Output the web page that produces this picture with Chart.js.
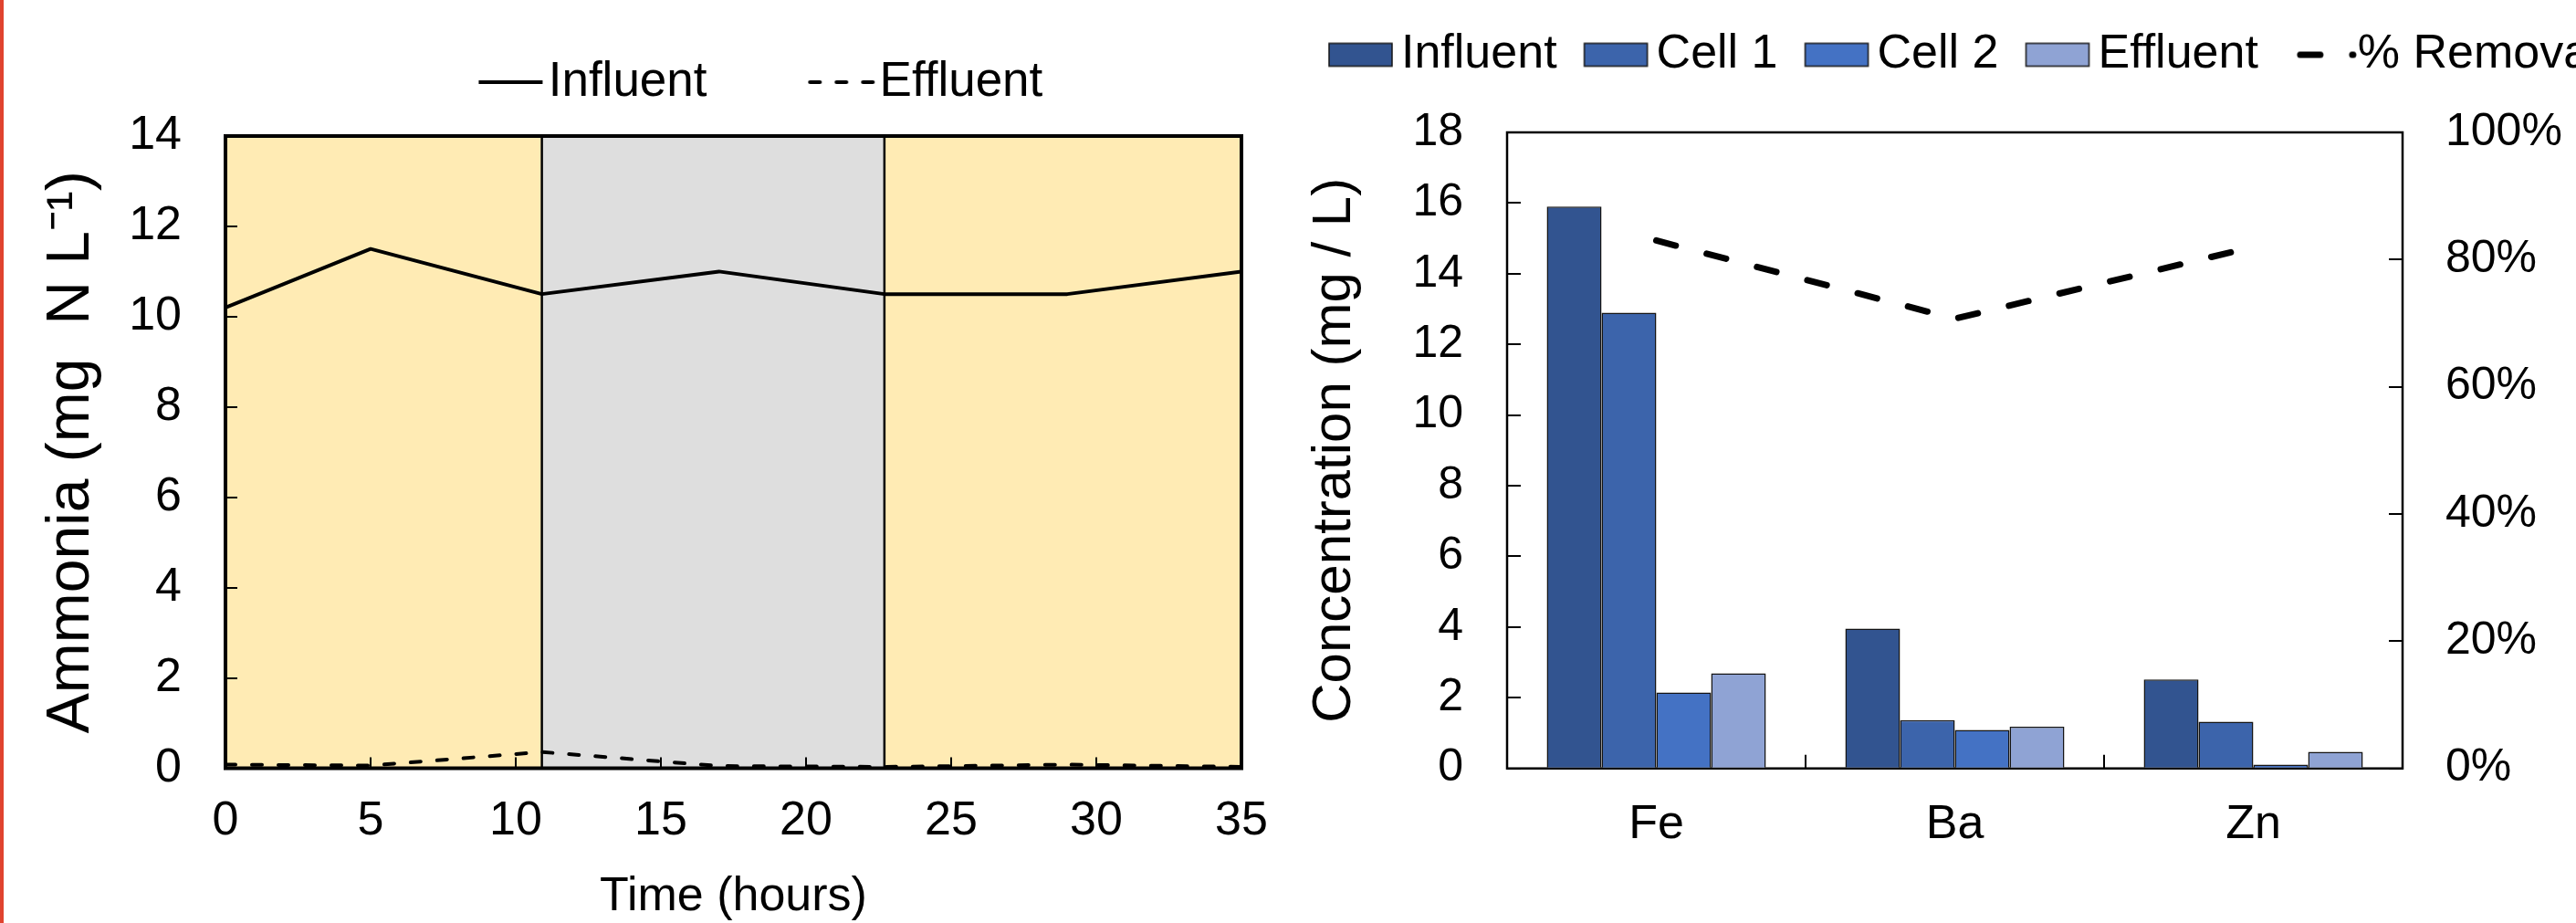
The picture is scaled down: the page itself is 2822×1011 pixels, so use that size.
<!DOCTYPE html>
<html>
<head>
<meta charset="utf-8">
<script src="https://cdn.jsdelivr.net/npm/chart.js@4/dist/chart.umd.min.js"></script>
<style>
  html, body { margin: 0; padding: 0; background: #fff; overflow: hidden; }
  body { width: 2822px; height: 1011px; position: relative; }
  #ammoniaChart { position: absolute; left: 0; top: 0; }
  #metalsChart { position: absolute; left: 1426px; top: 0; }
  .edge { position: absolute; left: 0; top: 0; width: 4px; height: 1011px; background: #e0432f; }
</style>
</head>
<body>
<canvas id="ammoniaChart" width="1435" height="1011"></canvas>
<canvas id="metalsChart" width="1500" height="1011"></canvas>
<div class="edge"></div>
<script>
Chart.defaults.font.family = '"Liberation Sans", Arial, sans-serif';
Chart.defaults.color = '#000';

// left panel: ammonia over one run
const hours = [0, 5, 10.9, 17, 22.7, 29, 35];
const ammoniaInfluent = [10.2, 11.5, 10.5, 11.0, 10.5, 10.5, 11.0];
const ammoniaEffluent = [0.08, 0.06, 0.36, 0.05, 0.03, 0.08, 0.03];
const phaseEdges = [0, 10.9, 22.7, 35];

// right panel: metals
const metals = ['Fe', 'Ba', 'Zn'];
const metalInfluent = [15.9, 3.96, 2.52];
const metalCell1 = [12.9, 1.37, 1.32];
const metalCell2 = [2.15, 1.09, 0.11];
const metalEffluent = [2.69, 1.18, 0.47];
const removalPct = [83.0, 70.7, 82.0];

// push the plot down from the legend
const legendGap = {
  id: 'legendGap',
  beforeInit(chart, args, opts) {
    const fit = chart.legend.fit;
    chart.legend.fit = function () {
      fit.call(this);
      this.height += opts.gap || 0;
    };
  }
};

const phaseShading = {
  id: 'phaseShading',
  beforeDraw(chart, args, opts) {
    const { ctx, chartArea: { top, bottom }, scales: { x } } = chart;
    ctx.save();
    for (let i = 0; i < opts.edges.length - 1; i++) {
      const x0 = x.getPixelForValue(opts.edges[i]);
      const x1 = x.getPixelForValue(opts.edges[i + 1]);
      ctx.fillStyle = opts.colors[i % opts.colors.length];
      ctx.fillRect(x0, top, x1 - x0, bottom - top);
    }
    ctx.strokeStyle = opts.lineColor;
    ctx.lineWidth = opts.lineWidth;
    for (let i = 1; i < opts.edges.length - 1; i++) {
      const px = x.getPixelForValue(opts.edges[i]);
      ctx.beginPath();
      ctx.moveTo(px, top);
      ctx.lineTo(px, bottom);
      ctx.stroke();
    }
    ctx.restore();
  }
};

const plotFrame = {
  id: 'plotFrame',
  beforeDatasetsDraw(chart, args, opts) {
    const { ctx, chartArea: a } = chart;
    ctx.save();
    ctx.strokeStyle = opts.color;
    ctx.lineWidth = opts.width;
    ctx.strokeRect(a.left, a.top, a.width, a.height);
    ctx.restore();
  }
};

// legend swatch as a small canvas; shift moves it right, next to its label
function swatch(ds, isLine, sw) {
  const len = isLine ? sw.lineLen : sw.rectW;
  const shift = isLine ? (sw.lineShift ?? sw.shift) : sw.shift;
  const h = isLine ? ds.borderWidth + 6 : sw.rectH + 4;
  const c = document.createElement('canvas');
  c.width = Math.ceil(2 * (Math.abs(shift) + len / 2) + 10);
  c.height = Math.ceil(h);
  const g = c.getContext('2d');
  const x0 = c.width / 2 + shift - len / 2;
  if (isLine) {
    g.strokeStyle = ds.borderColor;
    g.lineWidth = ds.borderWidth;
    g.lineCap = ds.borderCapStyle || 'butt';
    g.setLineDash(ds.borderDash || []);
    g.beginPath();
    g.moveTo(x0, c.height / 2);
    g.lineTo(x0 + len, c.height / 2);
    g.stroke();
  } else {
    const y0 = (c.height - sw.rectH) / 2;
    g.fillStyle = ds.backgroundColor;
    g.fillRect(x0, y0, len, sw.rectH);
    g.strokeStyle = ds.borderColor;
    g.lineWidth = ds.borderWidth;
    g.strokeRect(x0, y0, len, sw.rectH);
  }
  return c;
}

function makeLegendItems(sw) {
  return (chart) => chart.data.datasets.map((ds, i) => ({
    text: ds.label,
    fillStyle: ds.backgroundColor || 'transparent',
    strokeStyle: ds.borderColor,
    lineWidth: 0,
    pointStyle: swatch(ds, (ds.type || chart.config.type) === 'line', sw),
    fontColor: '#000',
    hidden: false,
    datasetIndex: i
  }));
}

function insideTicks(len) {
  return { drawOnChartArea: false, drawTicks: true, tickLength: -len, color: '#000', lineWidth: 2 };
}

const toPoints = (ys) => hours.map((h, i) => ({ x: h, y: ys[i] }));

new Chart(document.getElementById('ammoniaChart'), {
  type: 'line',
  data: {
    datasets: [
      {
        label: 'Influent',
        data: toPoints(ammoniaInfluent),
        borderColor: '#000',
        backgroundColor: 'transparent',
        borderWidth: 4,
        borderJoinStyle: 'round',
        pointRadius: 0,
        tension: 0
      },
      {
        label: 'Effluent',
        data: toPoints(ammoniaEffluent),
        borderColor: '#000',
        backgroundColor: 'transparent',
        borderWidth: 4,
        borderDash: [11, 18],
        borderCapStyle: 'round',
        pointRadius: 0,
        tension: 0
      }
    ]
  },
  options: {
    responsive: false,
    animation: false,
    devicePixelRatio: 1,
    layout: { padding: { top: 10.5, right: 75, bottom: 0, left: 0 } },
    plugins: {
      legend: {
        position: 'top',
        fullSize: false,
        align: 'center',
        labels: {
          usePointStyle: true,
          pointStyleWidth: 109.5,
          padding: 53,
          font: { size: 53 },
          color: '#000',
          generateLabels: makeLegendItems({ lineLen: 70, shift: 40 })
        }
      },
      tooltip: { enabled: false },
      legendGap: { gap: 22.5 },
      phaseShading: {
        edges: phaseEdges,
        colors: ['#ffebb4', '#dedede'],
        lineColor: '#000',
        lineWidth: 2.5
      },
      plotFrame: { width: 4, color: '#000' }
    },
    scales: {
      x: {
        type: 'linear',
        min: 0,
        max: 35,
        afterFit(s) { s.height = 169.5; },
        ticks: { stepSize: 5, padding: 44, font: { size: 52, lineHeight: 1 } },
        grid: insideTicks(12),
        border: { display: false },
        title: {
          display: true,
          text: 'Time (hours)',
          font: { size: 52, lineHeight: 1 },
          padding: { top: 0, bottom: 2 }
        }
      },
      y: {
        min: 0,
        max: 14,
        afterFit(s) { s.width = 247; },
        ticks: { stepSize: 2, padding: 61, font: { size: 52, lineHeight: 1 } },
        grid: insideTicks(13),
        border: { display: false },
        title: {
          display: true,
          text: 'Ammonia (mg  N L⁻¹)',
          font: { size: 66 },
          padding: { top: 39, bottom: 0 }
        }
      }
    }
  },
  plugins: [legendGap, phaseShading, plotFrame]
});

const barStyle = { borderColor: '#141414', borderWidth: 1.5, order: 1 };

new Chart(document.getElementById('metalsChart'), {
  type: 'bar',
  data: {
    labels: metals,
    datasets: [
      { label: 'Influent', data: metalInfluent, backgroundColor: '#325490', ...barStyle },
      { label: 'Cell 1', data: metalCell1, backgroundColor: '#3c64ab', ...barStyle },
      { label: 'Cell 2', data: metalCell2, backgroundColor: '#4472c4', ...barStyle },
      { label: 'Effluent', data: metalEffluent, backgroundColor: '#8fa3d4', ...barStyle },
      {
        type: 'line',
        label: '% Removal',
        data: removalPct,
        yAxisID: 'y1',
        borderColor: '#000',
        backgroundColor: 'transparent',
        borderWidth: 7,
        borderDash: [22, 35],
        borderCapStyle: 'round',
        pointRadius: 0,
        tension: 0,
        order: 0
      }
    ]
  },
  options: {
    responsive: false,
    animation: false,
    devicePixelRatio: 1,
    layout: { padding: { top: 20, right: 0, bottom: 0, left: 0 } },
    datasets: { bar: { categoryPercentage: 0.734, barPercentage: 1 } },
    plugins: {
      legend: {
        position: 'top',
        align: 'start',
        labels: {
          usePointStyle: true,
          pointStyleWidth: 69,
          boxHeight: 25,
          padding: 14,
          font: { size: 52 },
          color: '#000',
          generateLabels: makeLegendItems({ rectW: 69, rectH: 25, lineLen: 58, shift: 16, lineShift: 26.5 })
        }
      },
      tooltip: { enabled: false },
      legendGap: { gap: 49 },
      plotFrame: { width: 2.5, color: '#000' }
    },
    scales: {
      x: {
        afterFit(s) { s.height = 169.3; },
        ticks: { padding: 51, font: { size: 52, lineHeight: 1 } },
        grid: insideTicks(15),
        border: { display: false }
      },
      y: {
        position: 'left',
        min: 0,
        max: 18,
        afterFit(s) { s.width = 225; },
        ticks: { stepSize: 2, padding: 63, font: { size: 50, lineHeight: 1 } },
        grid: insideTicks(15),
        border: { display: false },
        title: {
          display: true,
          text: 'Concentration (mg / L)',
          font: { size: 60 },
          padding: { top: 0, bottom: 0 }
        }
      },
      y1: {
        position: 'right',
        min: 0,
        max: 100,
        afterFit(s) { s.width = 294; },
        ticks: {
          stepSize: 20,
          padding: 62,
          font: { size: 50, lineHeight: 1 },
          callback: (v) => v + '%'
        },
        grid: insideTicks(15),
        border: { display: false }
      }
    }
  },
  plugins: [legendGap, plotFrame]
});
</script>
</body>
</html>
